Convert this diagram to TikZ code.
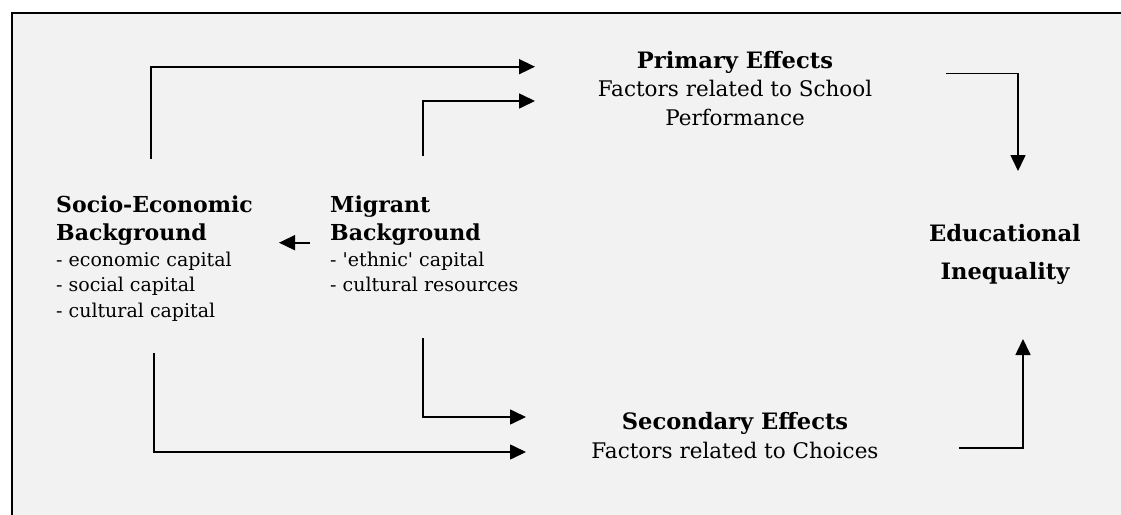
\documentclass[tikz,border=0pt]{standalone}
\usepackage{fontspec}
\setmainfont{DejaVu Serif}
\usetikzlibrary{arrows.meta}
\definecolor{panel}{RGB}{242,242,242}
\tikzset{
  conn/.style={line width=1.6pt, -{Triangle[length=16pt,width=15pt]}},
  lhead/.style={font=\fontsize{22}{26}\selectfont\bfseries, inner sep=0pt, anchor=base west},
  litem/.style={font=\fontsize{19}{23}\selectfont, inner sep=0pt, anchor=base west},
  ehead/.style={font=\fontsize{22.6}{27}\selectfont\bfseries, inner sep=0pt, anchor=base},
  etext/.style={font=\fontsize{21.5}{26}\selectfont, inner sep=0pt, anchor=base},
}
\begin{document}
\begin{tikzpicture}[x=1pt,y=-1pt]
  \clip (0,0) rectangle (1121,514);
  \fill[white] (0,0) rectangle (1121,514);
  \draw[line width=2pt, fill=panel] (12,13) rectangle (1140,540);

  % Socio-Economic Background
  \node[lhead] (se1) at (56,212) {Socio-Economic};
  \node[lhead] (se2) at (56,240) {Background};
  \node[litem] (se3) at (56,266) {- economic capital};
  \node[litem] (se4) at (56,291) {- social capital};
  \node[litem] (se5) at (56,317) {- cultural capital};

  % Migrant Background
  \node[lhead] (mg1) at (330,212) {Migrant};
  \node[lhead] (mg2) at (330,240) {Background};
  \node[litem] (mg3) at (330,266) {- \textquotesingle ethnic\textquotesingle{} capital};
  \node[litem] (mg4) at (330,291) {- cultural resources};

  % Primary effects
  \node[ehead] (pe1) at (735,68) {Primary Effects};
  \node[etext] (pe2) at (735,96) {Factors related to School};
  \node[etext] (pe3) at (735,125) {Performance};

  % Secondary effects
  \node[ehead] (sc1) at (735,429) {Secondary Effects};
  \node[etext] (sc2) at (735,458) {Factors related to Choices};

  % Educational inequality
  \node[ehead] (ei1) at (1005,241) {Educational};
  \node[ehead] (ei2) at (1005,279) {Inequality};

  % connector end points
  \coordinate (seUp) at (150.7,159);
  \coordinate (peIn1) at (535,66.7);
  \coordinate (mgUp) at (423,156);
  \coordinate (peIn2) at (535,101);
  \coordinate (mgLeft) at (310,242.7);
  \coordinate (seIn) at (279,242.7);
  \coordinate (mgDown) at (423,338);
  \coordinate (scIn1) at (526,417);
  \coordinate (seDown) at (154,353);
  \coordinate (scIn2) at (526,452);
  \coordinate (peOut) at (946,73.3);
  \coordinate (eiTop) at (1018,171);
  \coordinate (scOut) at (959,448);
  \coordinate (eiBot) at (1023,339);

  \draw[conn] (seUp) |- (peIn1);
  \draw[conn] (mgUp) |- (peIn2);
  \draw[conn] (mgLeft) -- (seIn);
  \draw[conn] (mgDown) |- (scIn1);
  \draw[conn] (seDown) |- (scIn2);
  \draw[conn] (peOut) -| (eiTop);
  \draw[conn] (scOut) -| (eiBot);
\end{tikzpicture}
\end{document}
